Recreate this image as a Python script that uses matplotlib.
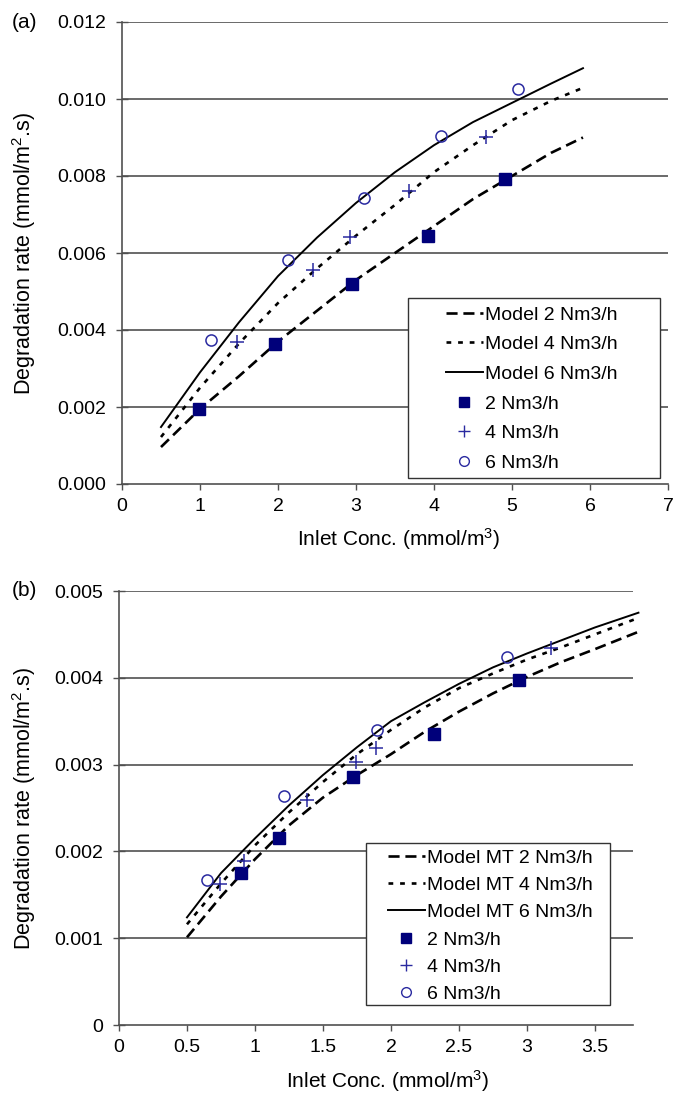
import matplotlib
matplotlib.use("Agg")
import matplotlib.pyplot as plt
from matplotlib.lines import Line2D
from matplotlib.patches import Rectangle

plt.rcParams['font.family'] = ['Liberation Sans', 'DejaVu Sans']
plt.rcParams['mathtext.fontset'] = 'custom'
plt.rcParams['mathtext.rm'] = 'Liberation Sans'
plt.rcParams['mathtext.it'] = 'Liberation Sans'

# ---- panel (a) data ----
a_x = [0.5, 1.0, 1.5, 2.0, 2.5, 3.0, 3.5, 4.0, 4.5, 5.0, 5.5, 5.91]
a_m2_y = [0.00096, 0.00195, 0.0028, 0.0037, 0.0045, 0.0053, 0.0060, 0.0067, 0.0074, 0.0080, 0.0086, 0.0090]
a_m4_y = [0.00122, 0.0025, 0.00365, 0.0047, 0.0056, 0.00645, 0.00725, 0.0081, 0.0088, 0.00945, 0.00995, 0.01029]
a_m6_y = [0.00148, 0.0029, 0.0042, 0.0054, 0.0064, 0.0073, 0.0081, 0.0088, 0.0094, 0.0099, 0.0104, 0.0108]

a_sq_x = [0.99, 1.96, 2.95, 3.92, 4.91]
a_sq_y = [0.00195, 0.00364, 0.0052, 0.00644, 0.00792]
a_pl_x = [1.47, 2.45, 2.92, 3.68, 4.67]
a_pl_y = [0.00369, 0.00556, 0.00642, 0.00761, 0.00901]
a_ci_x = [1.14, 2.13, 3.10, 4.09, 5.08]
a_ci_y = [0.00374, 0.00582, 0.00743, 0.00904, 0.01026]

# ---- panel (b) data ----
b_x = [0.5, 0.75, 1.0, 1.25, 1.5, 1.75, 2.0, 2.25, 2.5, 2.75, 3.0, 3.25, 3.5, 3.82]
b_m2_y = [0.00101, 0.00148, 0.00191, 0.0023, 0.00262, 0.00288, 0.00312, 0.00338, 0.00361, 0.00382,
          0.00401, 0.00418, 0.00433, 0.00453]
b_m4_y = [0.00116, 0.00163, 0.00207, 0.00245, 0.0028, 0.00312, 0.0034, 0.00366, 0.00388, 0.00405,
          0.00421, 0.00435, 0.0045, 0.00469]
b_m6_y = [0.00124, 0.00175, 0.00215, 0.00253, 0.00288, 0.0032, 0.0035, 0.00372, 0.00393, 0.00412,
          0.00428, 0.00443, 0.00458, 0.00475]

b_sq_x = [0.90, 1.18, 1.72, 2.32, 2.94]
b_sq_y = [0.00175, 0.00216, 0.00286, 0.00335, 0.00397]
b_pl_x = [0.74, 0.92, 1.38, 1.74, 1.89, 3.18]
b_pl_y = [0.00163, 0.00189, 0.00259, 0.00303, 0.00319, 0.00434]
b_ci_x = [0.65, 1.21, 1.90, 2.85]
b_ci_y = [0.00167, 0.00264, 0.0034, 0.00424]

navy = '#00007a'
blue = '#2a2aa0'
grid = '#505050'
W, H = 674, 1093
dash = (0, (4.2, 2.2))
dots = (0, (1.8, 2.6))

fig = plt.figure(figsize=(W / 100, H / 100), dpi=100)


def draw_panel(ax, xs, m_y, sq, pl, ci, yticks, ylabels, xlim, xticks, xlabels, clip):
    styles = [dict(ls=dash, lw=1.9), dict(ls=dots, lw=1.9), dict(ls='-', lw=1.4)]
    for y, st in zip(m_y, styles):
        ax.plot(xs, y, color='black', clip_on=clip, **st)
    ax.plot(sq[0], sq[1], ls='none', marker='s', ms=8.5, color=navy)
    ax.plot(pl[0], pl[1], ls='none', marker='+', ms=10, mew=1.1, color=blue)
    ax.plot(ci[0], ci[1], ls='none', marker='o', ms=8, mfc='none', mec=blue, mew=1.1)
    for yt in yticks[1:]:
        ax.axhline(yt, color=grid, lw=1.2, zorder=0)
    ax.set_xlim(*xlim)
    ax.set_ylim(yticks[0], yticks[-1])
    ax.set_yticks(yticks)
    ax.set_yticklabels(ylabels)
    ax.set_xticks(xticks)
    ax.set_xticklabels(xlabels)
    for s in ['top', 'right']:
        ax.spines[s].set_visible(False)
    for s in ['left', 'bottom']:
        ax.spines[s].set_color(grid)
        ax.spines[s].set_linewidth(1.2)
    ax.tick_params(axis='y', direction='inout', length=9, width=1, color=grid, labelsize=14, pad=7)
    ax.tick_params(axis='x', direction='out', length=4, width=1, color=grid, labelsize=14, pad=6)
    ax.set_ylabel('Degradation rate (mmol/m$^2$.s)', fontsize=15.5)
    ax.set_xlabel('Inlet Conc. (mmol/m$^3$)', fontsize=15)
    handles = [
        Line2D([], [], color='black', ls=dash, lw=1.9),
        Line2D([], [], color='black', ls=dots, lw=1.9),
        Line2D([], [], color='black', ls='-', lw=1.4),
        Line2D([], [], ls='none', marker='s', ms=7, color=navy),
        Line2D([], [], ls='none', marker='+', ms=8, mew=1, color=blue),
        Line2D([], [], ls='none', marker='o', ms=7, mfc='none', mec=blue, mew=1),
    ]
    return handles


def add_legend(ax, handles, labels, box, anchor, spacing):
    x0, y0, x1, y1 = box
    ax.add_patch(Rectangle((x0 / W, 1 - y1 / H), (x1 - x0) / W, (y1 - y0) / H,
                           transform=fig.transFigure, fill=True, fc='white',
                           ec='#333333', lw=1.0, zorder=3, clip_on=False))
    leg = ax.legend(handles, labels, loc='upper left', bbox_to_anchor=(anchor[0] / W, 1 - anchor[1] / H),
                    bbox_transform=fig.transFigure, fontsize=14, frameon=False,
                    handlelength=1.9, handletextpad=0.1, labelspacing=spacing,
                    borderpad=0, borderaxespad=0, numpoints=1)
    leg.set_zorder(5)
    return leg


ax1 = fig.add_axes([122 / W, 1 - 484 / H, 546 / W, 462 / H])
h1 = draw_panel(ax1, a_x, [a_m2_y, a_m4_y, a_m6_y],
                (a_sq_x, a_sq_y), (a_pl_x, a_pl_y), (a_ci_x, a_ci_y),
                [0, 0.002, 0.004, 0.006, 0.008, 0.010, 0.012],
                ['0.000', '0.002', '0.004', '0.006', '0.008', '0.010', '0.012'],
                (0, 7), list(range(8)), [str(i) for i in range(8)], True)
ax1.yaxis.set_label_coords((38 - 122) / 546, 0.5)
ax1.xaxis.set_label_coords(0.507, (484 - 526) / 462)
add_legend(ax1, h1, ['Model 2 Nm3/h', 'Model 4 Nm3/h', 'Model 6 Nm3/h', '2 Nm3/h', '4 Nm3/h', '6 Nm3/h'],
           (408, 298, 660, 478), (446, 306), 0.62)

ax2 = fig.add_axes([119 / W, 1 - 1025 / H, 514 / W, 434 / H])
h2 = draw_panel(ax2, b_x, [b_m2_y, b_m4_y, b_m6_y],
                (b_sq_x, b_sq_y), (b_pl_x, b_pl_y), (b_ci_x, b_ci_y),
                [0, 0.001, 0.002, 0.003, 0.004, 0.005],
                ['0', '0.001', '0.002', '0.003', '0.004', '0.005'],
                (0, 3.78), [0, 0.5, 1, 1.5, 2, 2.5, 3, 3.5],
                ['0', '0.5', '1', '1.5', '2', '2.5', '3', '3.5'], False)
ax2.yaxis.set_label_coords((38 - 119) / 514, 0.5)
ax2.xaxis.set_label_coords(0.523, (1025 - 1068) / 434)
add_legend(ax2, h2, ['Model MT 2 Nm3/h', 'Model MT 4 Nm3/h', 'Model MT 6 Nm3/h', '2 Nm3/h', '4 Nm3/h', '6 Nm3/h'],
           (366, 843, 610, 1005), (388, 849), 0.5)

fig.text(12 / W, 1 - 22 / H, '(a)', fontsize=15, va='center', ha='left')
fig.text(12 / W, 1 - 591 / H, '(b)', fontsize=15, va='center', ha='left')

fig.savefig('out.png', dpi=100)
